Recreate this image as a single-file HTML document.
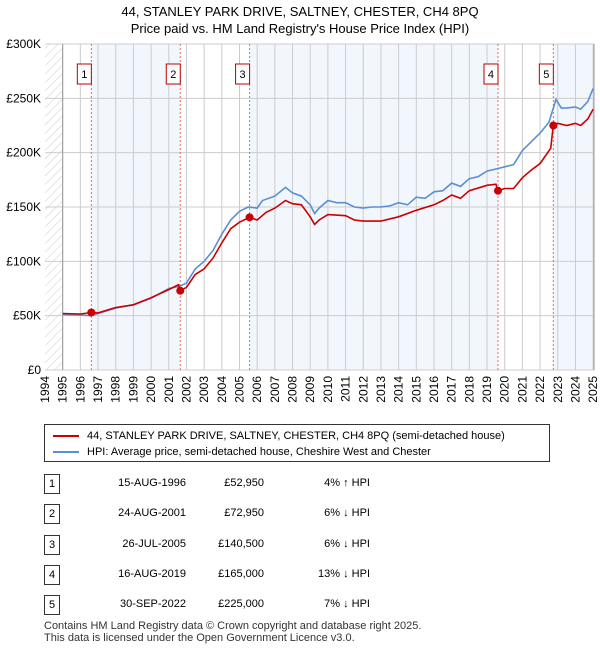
<!DOCTYPE html>
<html><head><meta charset="utf-8"><style>
body{margin:0;background:#fff;font-family:"Liberation Sans","DejaVu Sans",sans-serif;}
#wrap{position:relative;width:600px;height:650px;overflow:hidden;}
.t{position:absolute;font-size:12px;color:#000;}
</style></head><body><div id="wrap">
<div class="t" style="left:0;width:600px;top:3px;text-align:center;font-size:13px;line-height:17px;">44, STANLEY PARK DRIVE, SALTNEY, CHESTER, CH4 8PQ<br>Price paid vs. HM Land Registry's House Price Index (HPI)</div>
<svg id="chart" width="600" height="420" style="position:absolute;left:0;top:0"></svg>
<div style="position:absolute;left:44px;top:424px;width:506px;height:38px;border:1px solid #333;box-sizing:border-box;font-size:11px;">
<div style="position:absolute;left:8px;top:5px;"><span style="display:inline-block;width:26px;height:2px;background:#cc0000;vertical-align:middle;margin-right:8px"></span>44, STANLEY PARK DRIVE, SALTNEY, CHESTER, CH4 8PQ (semi-detached house)</div>
<div style="position:absolute;left:8px;top:21px;"><span style="display:inline-block;width:26px;height:2px;background:#5b8fd4;vertical-align:middle;margin-right:8px"></span>HPI: Average price, semi-detached house, Cheshire West and Chester</div>
</div>
<div id="tbl"></div>
<div class="t" style="left:44px;top:620px;font-size:11px;line-height:12px;color:#333">Contains HM Land Registry data © Crown copyright and database right 2025.<br>This data is licensed under the Open Government Licence v3.0.</div>
</div>
<script>
const hpiYears=[1995,1996,1996.6,1997,1998,1999,2000,2001,2001.6,2002,2002.5,2003,2003.5,2004,2004.5,2005,2005.5,2006,2006.3,2007,2007.6,2008,2008.5,2009,2009.25,2009.5,2010,2010.5,2011,2011.5,2012,2012.5,2013,2013.5,2014,2014.5,2015,2015.5,2016,2016.5,2017,2017.5,2018,2018.5,2019,2019.5,2020,2020.5,2021,2021.5,2022,2022.5,2022.9,2023.2,2023.5,2024,2024.3,2024.7,2025];
const hpiValues=[51000,50500,50000,52000,57000,60000,66000,75000,77000,80000,93000,100000,110000,125000,138000,146000,150000,149000,156000,160000,168000,163000,160000,152000,144000,149000,156000,154000,154000,150000,149000,150000,150000,151000,154000,152000,159000,158000,164000,165000,172000,169000,176000,178000,183000,185000,187000,189000,202000,210000,218000,228000,249000,241000,241000,242000,240000,247000,259000];
const redYears=[1995,1996,1996.62,1997,1998,1999,2000,2001,2001.55,2001.65,2002,2002.5,2003,2003.5,2004,2004.5,2005,2005.57,2006,2006.5,2007,2007.6,2008,2008.5,2009,2009.25,2009.5,2010,2011,2011.5,2012,2013,2014,2015,2016,2016.5,2017,2017.5,2018,2019,2019.5,2019.62,2020,2020.5,2021,2021.5,2022,2022.6,2022.75,2023,2023.5,2024,2024.3,2024.7,2025];
const redValues=[52000,51500,52950,52500,57500,60000,66500,74000,78500,72950,76000,88000,93000,103000,117000,130000,136000,140500,138000,145000,149000,156000,153000,152000,141000,134000,138000,143000,142000,138000,137000,137000,141000,147000,152000,156000,161000,158000,165000,170000,171000,165000,167000,167000,177000,184000,190000,204000,225000,227000,225000,227000,225000,231000,240000];
const saleLabels=["1","2","3","4","5"];
const saleYears=[1996.62,2001.65,2005.57,2019.62,2022.75];
const salePrices=[52950,72950,140500,165000,225000];
const saleDates=["15-AUG-1996","24-AUG-2001","26-JUL-2005","16-AUG-2019","30-SEP-2022"];
const salePriceText=["£52,950","£72,950","£140,500","£165,000","£225,000"];
const saleHpiText=["4% ↑ HPI","6% ↓ HPI","6% ↓ HPI","13% ↓ HPI","7% ↓ HPI"];
const yTicks=[0,50000,100000,150000,200000,250000,300000];
const yTickLabels=["£0","£50K","£100K","£150K","£200K","£250K","£300K"];

const X0=45,X1=594,Y0=370,Y1=44,YMIN=1994,YMAX=2025.05;
const xs=y=>X0+(y-YMIN)/(YMAX-YMIN)*(X1-X0);
const ys=v=>Y0-v/300000*(Y0-Y1);
const svg=document.getElementById('chart');const NS="http://www.w3.org/2000/svg";
function mk(t,a,p){const e=document.createElementNS(NS,t);for(const k in a)e.setAttribute(k,a[k]);(p||svg).appendChild(e);return e;}
const defs=mk('defs',{});
const pat=mk('pattern',{id:'hatch',width:6,height:6,patternUnits:'userSpaceOnUse',patternTransform:'rotate(45)'},defs);
mk('line',{x1:0,y1:0,x2:0,y2:6,stroke:'#ccc','stroke-width':1},pat);
let r=mk('rect',{x:X0,y:Y1,width:xs(1995)-X0,height:Y0-Y1,fill:'url(#hatch)'});

[[0,1],[2,3],[4,5]].forEach(([a,b])=>{const xa=xs(saleYears[a]);const xb=b<5?xs(saleYears[b]):X1;
const e=mk('rect',{x:xa,y:Y1,width:xb-xa,height:Y0-Y1,fill:'#eef3fc',opacity:0.75});
});
for(let y=1995;y<=2025;y++){const e=mk('line',{x1:xs(y),x2:xs(y),y1:Y1,y2:Y0,stroke:'#ccc','stroke-width':1});
}
yTicks.forEach((v,i)=>{const e=mk('line',{x1:X0,x2:X1,y1:ys(v),y2:ys(v),stroke:'#ccc','stroke-width':1});

const t=mk('text',{x:X0-4,y:ys(v)+4,'text-anchor':'end','font-size':12,'font-family':'Liberation Sans, sans-serif'});t.textContent=yTickLabels[i];
});
mk('line',{x1:xs(1995),x2:xs(1995),y1:Y1,y2:Y0,stroke:'#999'});
mk('line',{x1:X1,x2:X1,y1:Y1,y2:Y0,stroke:'#999'});
for(let y=1994;y<=2025;y++){const t=mk('text',{transform:`translate(${xs(y)+4},${Y0+6}) rotate(-90)`,'text-anchor':'end','font-size':12,'font-family':'Liberation Sans, sans-serif'});t.textContent=y;
}
saleYears.forEach((y,i)=>{const e=mk('line',{x1:xs(y),x2:xs(y),y1:Y1,y2:Y0,stroke:'#e66','stroke-width':1,'stroke-dasharray':'2,2'});
});
function path(xa,va,col,name){const d=xa.map((x,i)=>(i?'L':'M')+xs(x).toFixed(1)+','+ys(va[i]).toFixed(1)).join('');
const p=mk('path',{d:d,fill:'none',stroke:col,'stroke-width':1.6});}
path(hpiYears,hpiValues,'#5b8fd4','hpi-line');
path(redYears,redValues,'#cc0000','price-paid-line');
saleYears.forEach((y,i)=>{const c=mk('circle',{cx:xs(y),cy:ys(salePrices[i]),r:4,fill:'#cc0000'});

const bx=xs(y)-7-7,g=mk('rect',{x:bx,y:64,width:14,height:20,fill:'#fff',stroke:'#b00','stroke-width':1});

const t=mk('text',{x:bx+7,y:78,'text-anchor':'middle','font-size':11,'font-family':'Liberation Sans, sans-serif'});t.textContent=saleLabels[i];
});
const tbl=document.getElementById('tbl');
saleLabels.forEach((l,i)=>{const top=474+i*30.3;
const row=document.createElement('div');
row.style.cssText=`position:absolute;left:0;top:${top}px;width:600px;height:20px;font-size:11px;`;
row.innerHTML=`<span style="position:absolute;left:44px;top:0;width:14px;height:18px;border:1px solid #333;text-align:center;line-height:18px">${l}</span>
<span style="position:absolute;left:70px;width:116px;text-align:right;top:3px">${saleDates[i]}</span>
<span style="position:absolute;left:180px;width:84px;text-align:right;top:3px">${salePriceText[i]}</span>
<span style="position:absolute;left:290px;width:80px;text-align:right;top:3px">${saleHpiText[i]}</span>`;
tbl.appendChild(row);});
</script></body></html>
